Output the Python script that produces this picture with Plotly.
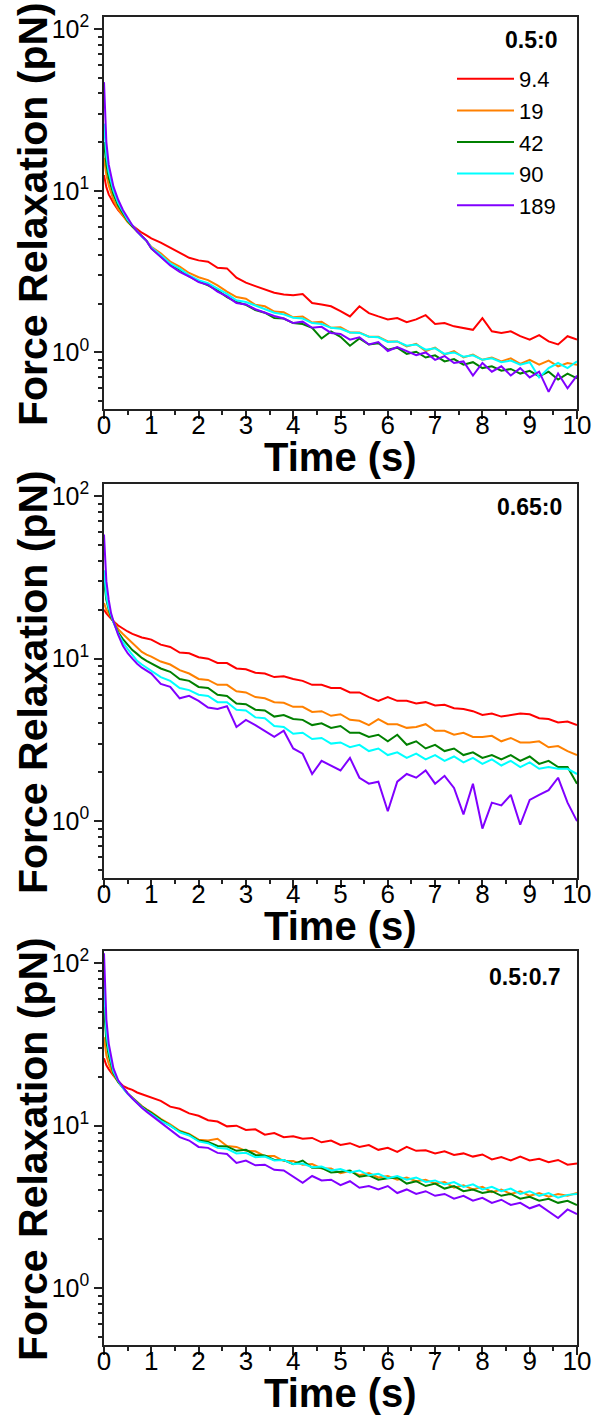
import plotly.graph_objects as go

# ---------------- data ----------------
T = [0, 0.02, 0.05, 0.1, 0.15, 0.2, 0.3, 0.4, 0.5, 0.6, 0.7, 0.8, 0.9,
     1.0, 1.2, 1.4, 1.6, 1.8, 2.0, 2.2, 2.4, 2.6, 2.8, 3.0, 3.2, 3.4, 3.6, 3.8,
     4.0, 4.2, 4.4, 4.6, 4.8, 5.0, 5.2, 5.4, 5.6, 5.8, 6.0, 6.2, 6.4, 6.6, 6.8,
     7.0, 7.2, 7.4, 7.6, 7.8, 8.0, 8.2, 8.4, 8.6, 8.8, 9.0, 9.2, 9.4, 9.6, 9.8, 10.0]

LABELS = ["9.4", "19", "42", "90", "189"]
PANEL_LABELS = ["0.5:0", "0.65:0", "0.5:0.7"]
X_TITLE = "Time (s)"
Y_TITLE = "Force Relaxation (pN)"
X_TICKS = [0, 1, 2, 3, 4, 5, 6, 7, 8, 9, 10]
Y_TICKS = [1, 10, 100]
Y_TICKTEXT = ["10<sup>0</sup>", "10<sup>1</sup>", "10<sup>2</sup>"]

# panel 1 : 0.5:0
P1_94 = [12.5, 11.5, 10.5, 9.5, 8.9, 8.4, 7.6, 7.0, 6.5, 6.1, 5.8, 5.5, 5.3,
         5.08, 4.78, 4.45, 4.14, 3.85, 3.71, 3.64, 3.34, 3.31, 2.90, 2.70, 2.57, 2.45, 2.34, 2.28,
         2.26, 2.30, 2.02, 1.98, 1.93, 1.80, 1.67, 1.93, 1.75, 1.67, 1.60, 1.63, 1.54, 1.60, 1.70,
         1.50, 1.52, 1.45, 1.42, 1.38, 1.63, 1.35, 1.32, 1.35, 1.26, 1.20, 1.28, 1.17, 1.12, 1.26, 1.20]
P1_19 = [16, 14, 12.5, 10.8, 9.6, 8.8, 7.7, 7.0, 6.4, 6.0, 5.6, 5.2, 4.9,
         4.5, 4.1, 3.65, 3.4, 3.1, 2.92, 2.8, 2.6, 2.38, 2.2, 2.15, 1.97, 1.93, 1.79, 1.77,
         1.65, 1.67, 1.53, 1.55, 1.42, 1.43, 1.33, 1.33, 1.25, 1.25, 1.17, 1.17, 1.09, 1.13, 1.02,
         1.07, 0.97, 1.02, 0.93, 0.97, 0.9, 0.93, 0.88, 0.92, 0.85, 0.9, 0.84, 0.89, 0.82, 0.86, 0.84]
P1_42 = [20, 17, 14.5, 12.0, 10.5, 9.5, 8.1, 7.2, 6.5, 6.0, 5.6, 5.2, 4.9,
         4.4, 3.95, 3.5, 3.25, 2.95, 2.75, 2.6, 2.42, 2.2, 2.05, 1.97, 1.83, 1.76, 1.63, 1.62,
         1.52, 1.50, 1.42, 1.22, 1.35, 1.25, 1.10, 1.22, 1.12, 1.14, 1.04, 1.07, 0.98, 1.01, 0.93,
         0.96, 0.88, 0.91, 0.84, 0.87, 0.80, 0.82, 0.77, 0.79, 0.74, 0.77, 0.71, 0.76, 0.68, 0.74, 0.69]
P1_90 = [26, 21, 16.5, 13.0, 11.2, 10.0, 8.4, 7.4, 6.6, 6.1, 5.6, 5.2, 4.9,
         4.45, 4.0, 3.55, 3.3, 3.0, 2.8, 2.68, 2.48, 2.3, 2.1, 2.05, 1.95, 1.85, 1.76, 1.72,
         1.64, 1.62, 1.52, 1.50, 1.42, 1.40, 1.33, 1.32, 1.25, 1.24, 1.16, 1.17, 1.10, 1.12, 1.04,
         1.06, 0.98, 1.0, 0.94, 0.96, 0.90, 0.92, 0.87, 0.89, 0.84, 0.87, 0.70, 0.80, 0.86, 0.80, 0.88]
P1_189 = [47, 30, 20, 14.5, 12.2, 10.6, 8.8, 7.6, 6.8, 6.1, 5.6, 5.2, 4.9,
          4.4, 3.9, 3.45, 3.15, 2.95, 2.72, 2.62, 2.38, 2.22, 2.02, 1.98, 1.85, 1.76, 1.68, 1.62,
          1.52, 1.55, 1.42, 1.44, 1.32, 1.30, 1.20, 1.24, 1.12, 1.16, 1.02, 1.08, 1.02, 0.96, 1.0,
          0.90, 0.95, 0.86, 0.88, 0.72, 0.86, 0.76, 0.82, 0.72, 0.80, 0.70, 0.76, 0.57, 0.74, 0.60, 0.72]

# panel 2 : 0.65:0
P2_94 = [20, 19.5, 19, 18.3, 17.5, 17, 16, 15.3, 14.7, 14.2, 13.8, 13.5, 13.3,
         13.1, 12.2, 11.8, 10.9, 10.8, 10.2, 10.0, 9.4, 9.4, 8.7, 8.6, 8.2, 8.1, 7.7, 7.8,
         7.5, 7.3, 6.9, 6.9, 6.6, 6.6, 6.2, 6.2, 5.8, 5.5, 5.8, 5.5, 5.5, 5.3, 5.4,
         5.15, 5.2, 4.95, 4.9, 4.75, 4.5, 4.6, 4.4, 4.5, 4.6, 4.55, 4.3, 4.25, 4.05, 4.1, 3.9]
P2_19 = [22, 21, 20, 19, 18, 17, 15.2, 14.2, 13.3, 12.4, 11.6, 11.0, 10.6,
         10.3, 9.6, 9.2, 8.5, 8.1, 7.5, 7.4, 6.9, 6.9, 6.3, 6.2, 5.8, 5.7, 5.4, 5.35,
         5.05, 5.05, 4.7, 4.75, 4.45, 4.55, 4.2, 4.15, 3.9, 4.25, 3.95, 3.95, 3.75, 3.8, 3.95,
         3.6, 3.6, 3.4, 3.5, 3.3, 3.3, 3.35, 3.1, 3.25, 3.05, 3.05, 3.1, 2.85, 2.9, 2.7, 2.55]
P2_42 = [30, 26, 23, 20, 18, 16.8, 14.5, 13.2, 12.3, 11.3, 10.7, 10.1, 9.7,
         9.35, 8.7, 8.3, 7.5, 7.3, 6.7, 6.6, 6.0, 5.9, 5.3, 5.25, 4.85, 4.8, 4.4, 4.5,
         4.25, 4.2, 3.9, 4.0, 3.75, 3.85, 3.5, 3.5, 3.3, 3.4, 3.1, 3.4, 2.95, 3.1, 2.8,
         2.95, 2.7, 2.8, 2.55, 2.65, 2.45, 2.55, 2.4, 2.55, 2.35, 2.5, 2.25, 2.35, 2.15, 2.15, 1.7]
P2_90 = [35, 29, 24, 20.5, 18.2, 16.8, 14.2, 12.6, 11.5, 10.5, 9.7, 9.2, 8.8,
         8.5, 7.7, 7.3, 6.6, 6.4, 6.0, 5.9, 5.4, 5.4, 4.85, 4.8, 4.35, 4.3, 3.85, 3.8,
         3.45, 3.5, 3.2, 3.25, 3.0, 3.05, 2.85, 2.95, 2.7, 2.8, 2.55, 2.65, 2.45, 2.6, 2.4,
         2.55, 2.35, 2.5, 2.3, 2.45, 2.25, 2.4, 2.2, 2.35, 2.15, 2.3, 2.1, 2.15, 2.1, 2.1, 1.95]
P2_189 = [58, 40, 30, 23, 19, 17, 14, 12, 10.8, 10.0, 9.3, 8.8, 8.4,
          8.1, 7.0, 6.7, 5.7, 5.9, 5.5, 5.0, 4.9, 5.1, 3.8, 4.2, 3.9, 3.6, 3.3, 3.6,
          2.8, 2.6, 1.95, 2.35, 2.2, 2.05, 2.45, 1.85, 1.7, 1.75, 1.15, 1.75, 1.95, 1.85, 2.05,
          1.7, 1.9, 1.6, 1.1, 1.7, 0.9, 1.3, 1.25, 1.45, 0.95, 1.35, 1.45, 1.55, 1.85, 1.3, 1.0]

# panel 3 : 0.5:0.7
P3_94 = [26, 24.5, 23.5, 22.3, 21.2, 20.3, 18.8, 17.6, 17.0, 16.6, 16.0, 15.6, 15.3,
         14.8, 14.2, 13.1, 12.7, 11.9, 11.5, 10.8, 10.6, 9.9, 10.0, 9.4, 9.5, 8.8, 9.0, 8.5,
         8.6, 8.3, 8.4, 7.9, 8.1, 7.6, 7.8, 7.4, 7.6, 7.1, 7.3, 6.9, 7.4, 7.0, 7.05,
         6.75, 6.95, 6.6, 6.75, 6.45, 6.65, 6.2, 6.4, 6.1, 6.45, 6.1, 6.25, 5.95, 6.15, 5.75, 5.85]
P3_19 = [35, 31, 27, 24, 22, 20.5, 18.5, 17.0, 15.8, 14.9, 14.0, 13.2, 12.6,
         12.1, 11.0, 10.2, 9.3, 8.9, 8.2, 8.1, 8.3, 7.5, 7.4, 7.0, 6.95, 6.5, 6.5, 6.05,
         6.05, 5.75, 5.8, 5.45, 5.45, 5.1, 5.25, 4.95, 5.1, 4.8, 4.9, 4.65, 4.8, 4.55, 4.65,
         4.4, 4.5, 4.15, 4.3, 4.05, 4.2, 3.9, 4.05, 3.8, 3.95, 3.7, 3.85, 3.65, 3.8, 3.7, 3.85]
P3_42 = [54, 42, 33, 27, 23.5, 21, 18.6, 17.0, 15.8, 14.8, 13.9, 13.1, 12.5,
         12.0, 10.9, 10.0, 9.2, 8.8, 8.1, 7.95, 7.5, 7.45, 7.0, 7.1, 6.6, 6.55, 6.15, 6.15,
         5.8, 6.1, 5.5, 5.5, 5.15, 5.2, 5.3, 4.85, 4.95, 4.65, 4.75, 4.8, 4.4, 4.55, 4.25,
         4.4, 4.1, 4.25, 3.95, 4.05, 3.85, 3.95, 3.7, 3.8, 3.55, 3.65, 3.45, 3.55, 3.35, 3.45, 3.25]
P3_90 = [75, 52, 37, 29, 24.5, 21.5, 18.8, 17.0, 15.7, 14.7, 13.8, 13.0, 12.3,
         11.8, 10.7, 10.0, 9.1, 8.7, 8.0, 7.8, 7.3, 7.2, 6.75, 6.8, 6.4, 6.45, 6.1, 6.15,
         5.8, 5.85, 5.55, 5.6, 5.3, 5.4, 5.15, 5.3, 4.95, 5.05, 4.75, 4.9, 4.65, 4.8, 4.5,
         4.6, 4.35, 4.5, 4.2, 4.35, 4.05, 4.2, 3.95, 4.1, 3.8, 3.95, 3.7, 3.85, 3.6, 3.75, 3.8]
P3_189 = [115, 70, 45, 32, 26, 22.5, 19, 17.2, 15.8, 14.7, 13.7, 12.9, 12.2,
          11.6, 10.4, 9.5, 8.5, 8.1, 7.4, 7.3, 6.8, 6.7, 5.9, 6.1, 5.7, 5.75, 5.35, 5.3,
          4.85, 4.45, 4.9, 4.6, 4.65, 4.3, 4.55, 4.15, 4.25, 4.05, 4.25, 3.85, 4.05, 3.8, 3.95,
          3.7, 3.8, 3.55, 3.7, 3.45, 3.6, 3.35, 3.5, 3.25, 3.35, 3.1, 3.25, 2.95, 2.7, 3.05, 2.85]

# ---------------- styling ----------------
COLORS = ["#FF0000", "#FF8000", "#008000", "#00FFFF", "#8000FF"]
FONT = "Liberation Sans, Arial, sans-serif"
W, H = 595, 1416

panels = [
    [P1_94, P1_19, P1_42, P1_90, P1_189],
    [P2_94, P2_19, P2_42, P2_90, P2_189],
    [P3_94, P3_19, P3_42, P3_90, P3_189],
]

# pixel geometry of each plotting box (top, bottom)
boxes = [(17, 409), (484, 878), (951, 1345)]
x_left, x_right = 104, 577

fig = go.Figure()
for i, series in enumerate(panels):
    suffix = "" if i == 0 else str(i + 1)
    for j, ys in enumerate(series):
        fig.add_trace(go.Scatter(
            x=T, y=ys, mode="lines",
            line=dict(color=COLORS[j], width=2),
            name=LABELS[j], legendgroup=LABELS[j],
            showlegend=(i == 0),
            xaxis="x" + suffix, yaxis="y" + suffix,
        ))

axis_common = dict(
    showline=True, linecolor="#222", linewidth=1.5, mirror=True,
    ticks="outside", tickcolor="#222", tickwidth=1.5, ticklen=8,
    showgrid=False, zeroline=False, automargin=False,
)

layout = dict(
    width=W, height=H,
    margin=dict(l=0, r=0, t=0, b=0),
    paper_bgcolor="white", plot_bgcolor="white",
    font=dict(family=FONT, color="black"),
    showlegend=True,
    legend=dict(
        x=452 / W, xanchor="left",
        y=1 - 58 / H, yanchor="top",
        font=dict(family=FONT, size=22, color="black"),
        bgcolor="rgba(0,0,0,0)",
        traceorder="normal",
        itemwidth=57,
    ),
)

for i, (top, bot) in enumerate(boxes):
    suffix = "" if i == 0 else str(i + 1)
    layout["xaxis" + suffix] = dict(
        axis_common,
        domain=[x_left / W, x_right / W],
        anchor="y" + suffix,
        range=[0, 10],
        tickvals=X_TICKS,
        tickfont=dict(family=FONT, size=26, color="black"),
        ticklabelstandoff=-16,
        minor=dict(dtick=0.5, ticks="outside", ticklen=4, tickcolor="#222", tickwidth=1.5),
    )
    layout["yaxis" + suffix] = dict(
        axis_common,
        type="log",
        domain=[1 - bot / H, 1 - top / H],
        anchor="x" + suffix,
        range=[-0.35, 2.075],
        tickvals=Y_TICKS, ticktext=Y_TICKTEXT,
        tickfont=dict(family=FONT, size=25, color="black"),
        minor=dict(
            tickvals=[0.5, 0.6, 0.7, 0.8, 0.9, 2, 3, 4, 5, 6, 7, 8, 9,
                      20, 30, 40, 50, 60, 70, 80, 90],
            ticks="outside", ticklen=4, tickcolor="#222", tickwidth=1.5),
    )

fig.update_layout(**layout)

title_font = dict(family=FONT, size=41, color="black", weight="bold")
xtitle_font = dict(family=FONT, size=40, color="black", weight="bold")
label_pos = [(559, 40), (564, 507), (563, 977)]
for i, (top, bot) in enumerate(boxes):
    # x-axis title
    fig.add_annotation(
        text=X_TITLE, xref="paper", yref="paper",
        x=(x_left + x_right) / 2 / W, y=1 - (bot + 48) / H,
        xanchor="center", yanchor="middle", showarrow=False, font=xtitle_font,
    )
    # y-axis title
    fig.add_annotation(
        text=Y_TITLE, xref="paper", yref="paper", textangle=-90,
        x=33 / W, y=1 - ((top + bot) / 2 + 1) / H,
        xanchor="center", yanchor="middle", showarrow=False, font=title_font,
    )
    # panel label
    px, py = label_pos[i]
    fig.add_annotation(
        text=PANEL_LABELS[i], xref="paper", yref="paper",
        x=px / W, y=1 - py / H, xanchor="right", yanchor="middle",
        showarrow=False,
        font=dict(family=FONT, size=23, color="black", weight="bold"),
    )

fig.write_html(
    "out.html",
    config={"displayModeBar": False},
    post_script="document.body.style.margin='0px';document.body.style.overflow='hidden';",
)
